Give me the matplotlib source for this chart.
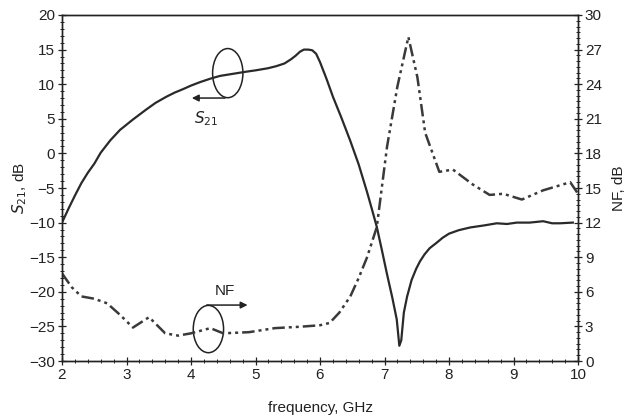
import matplotlib
matplotlib.use("Agg")
import matplotlib.pyplot as plt
from matplotlib.patches import Ellipse
from matplotlib.ticker import MultipleLocator

plt.rcParams['font.family'] = ['Liberation Sans', 'DejaVu Sans']

s21_freq = [2.0, 2.1, 2.2, 2.3, 2.4, 2.5, 2.6, 2.75, 2.9, 3.1, 3.3, 3.45, 3.62, 3.75, 3.88, 4.0, 4.14, 4.3,
            4.45, 4.65, 4.85, 5.0, 5.19, 5.32, 5.45, 5.55, 5.62, 5.69, 5.75, 5.82, 5.88, 5.94, 6.0, 6.1,
            6.2, 6.33, 6.47, 6.6, 6.73, 6.8, 6.88, 6.96, 7.04, 7.12, 7.19, 7.23, 7.26, 7.3, 7.35, 7.42, 7.49,
            7.55, 7.62, 7.7, 7.81, 7.9, 8.0, 8.15, 8.33, 8.55, 8.74, 8.9, 9.05, 9.25, 9.46, 9.6, 9.72, 9.92]
s21_vals = [-10.0, -8.0, -6.1, -4.3, -2.8, -1.5, 0.1, 1.9, 3.4, 4.9, 6.3, 7.3, 8.2, 8.8, 9.3, 9.8, 10.3, 10.8,
            11.2, 11.5, 11.8, 12.0, 12.3, 12.6, 13.0, 13.6, 14.1, 14.7, 15.0, 15.0, 14.9, 14.4, 13.2, 10.8,
            8.2, 5.2, 1.8, -1.6, -5.6, -7.9, -10.6, -14.0, -17.5, -20.8, -24.0, -27.8, -27.0, -23.0, -20.7, -18.3, -16.7,
            -15.6, -14.6, -13.7, -12.9, -12.2, -11.6, -11.1, -10.7, -10.4, -10.1,
            -10.2, -10.0, -10.0, -9.8, -10.1, -10.1, -10.0]

nf_freq = [2.0, 2.15, 2.3, 2.5, 2.7, 2.9, 3.1, 3.35, 3.6, 3.8, 4.0, 4.3, 4.5, 4.9, 5.3, 5.69, 6.0, 6.15, 6.3,
           6.47, 6.6, 6.73, 6.88, 7.04, 7.2, 7.37, 7.51, 7.63, 7.85, 8.06, 8.37, 8.63, 8.84, 9.13, 9.46, 9.88, 10.0]
nf_vals = [7.6, 6.4, 5.6, 5.4, 5.0, 4.0, 2.9, 3.8, 2.4, 2.2, 2.4, 2.85, 2.4, 2.5, 2.85, 2.97, 3.1, 3.3, 4.2,
           5.6, 7.2, 9.0, 11.6, 18.6, 23.8, 28.1, 24.6, 19.8, 16.4, 16.6, 15.3, 14.4, 14.5, 14.0, 14.8, 15.5, 14.5]

fig = plt.figure(figsize=(6.31, 4.19), dpi=100)
ax = fig.add_axes([62/631, 1-361/419, (578-62)/631, (361-15)/419])
ax2 = ax.twinx()

ax.plot(s21_freq, s21_vals, color='#2a2a2a', lw=1.6, zorder=3)
ax2.plot(nf_freq, nf_vals, color='#3a3a3a', lw=1.8, dashes=[5, 1.6, 1.2, 1.6, 1.2, 1.6])

ax.set_xlim(2, 10)
ax.set_ylim(-30, 20)
ax2.set_ylim(0, 30)
ax.xaxis.set_major_locator(MultipleLocator(1))
ax.xaxis.set_minor_locator(MultipleLocator(0.2))
ax.yaxis.set_major_locator(MultipleLocator(5))
ax.yaxis.set_minor_locator(MultipleLocator(1))
ax2.yaxis.set_major_locator(MultipleLocator(3))
ax2.yaxis.set_minor_locator(MultipleLocator(0.5))

for a in (ax, ax2):
    a.tick_params(which='major', direction='inout', length=6, width=0.9, labelsize=11, pad=2, color='#222222', labelcolor='#222222')
    a.tick_params(which='minor', direction='inout', length=3, width=0.7, color='#222222')
    for s in a.spines.values():
        s.set_linewidth(1.0)
        s.set_color('#222222')

ax.set_xlabel('frequency, GHz', fontsize=11, labelpad=14, color='#222222')
ax.set_ylabel('$S_{21}$, dB', fontsize=11, labelpad=0, color='#222222')
ax2.set_ylabel('NF, dB', fontsize=11, labelpad=7, color='#222222')

# S21 annotation
ax.add_patch(Ellipse((4.57, 11.6), 0.47, 7.1, fill=False, ec='#222222', lw=1.1))
ax.annotate('', xy=(3.97, 8.0), xytext=(4.57, 8.0),
            arrowprops=dict(arrowstyle='-|>', color='#222222', lw=1.1, mutation_scale=10))
ax.text(4.24, 5.0, '$S_{21}$', fontsize=11, ha='center', va='center', color='#222222')

# NF annotation
ax2.add_patch(Ellipse((4.27, 2.77), 0.47, 4.1, fill=False, ec='#222222', lw=1.1))
ax2.annotate('', xy=(4.92, 4.85), xytext=(4.2, 4.85),
             arrowprops=dict(arrowstyle='-|>', color='#222222', lw=1.1, mutation_scale=10))
ax2.text(4.53, 6.1, 'NF', fontsize=11, ha='center', va='center', color='#222222')

fig.savefig('out.png', dpi=100)
